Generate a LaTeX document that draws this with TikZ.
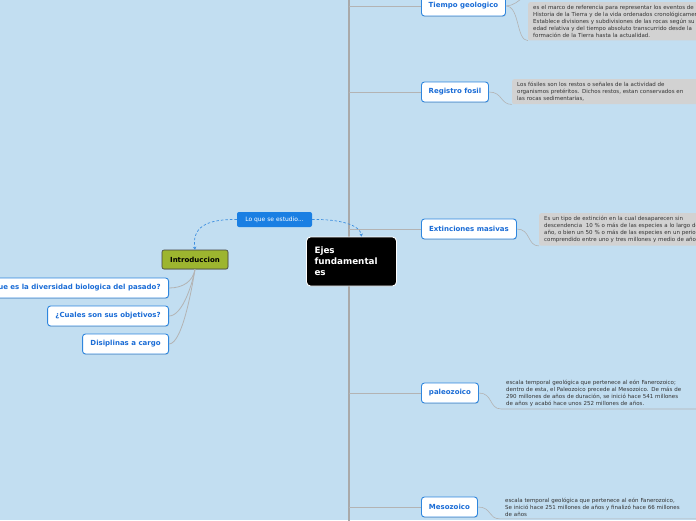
\documentclass[tikz,border=0pt]{standalone}
\usepackage{fontspec}
\setmainfont{DejaVu Sans}
\usetikzlibrary{shadows,arrows.meta}
\definecolor{bg}{HTML}{C2DEF1}
\definecolor{topicblue}{HTML}{2E86DE}
\definecolor{topictext}{HTML}{1A6CD6}
\definecolor{lofill}{HTML}{1A7FE3}
\definecolor{introfill}{HTML}{9DB52F}
\definecolor{descgray}{HTML}{D2D2D2}
\definecolor{desctext}{HTML}{333333}
\definecolor{trunkgray}{HTML}{A9A9A9}
\definecolor{linegray}{HTML}{B3B3B3}
\definecolor{dashblue}{HTML}{3D8FE0}
\tikzset{
  topic/.style={draw=topicblue, line width=0.9pt, fill=white, rounded corners=3pt,
    text=topictext, font=\fontsize{7}{8.4}\selectfont\bfseries,
    minimum height=20pt, inner xsep=3pt,
    drop shadow={shadow xshift=0.4pt, shadow yshift=-0.8pt, opacity=0.25}},
  desc/.style={fill=descgray, rounded corners=2pt, text=desctext,
    font=\fontsize{5.5}{7}\selectfont, align=left, anchor=north west,
    inner xsep=5pt, inner ysep=3pt, text width=200pt},
  plaindesc/.style={text=desctext, font=\fontsize{5.5}{7}\selectfont, align=left,
    anchor=north west, inner xsep=5pt, inner ysep=2.5pt, text width=200pt},
  conn/.style={draw=linegray, line width=0.6pt},
  branch/.style={draw=linegray, line width=0.8pt},
  dlink/.style={draw=dashblue, line width=0.7pt, dash pattern=on 2.5pt off 2pt,
    -{Stealth[length=3pt,width=3.5pt]}}
}
\begin{document}
\begin{tikzpicture}[x=1pt,y=-1pt]
\useasboundingbox (0,0) rectangle (696,520);
\fill[bg] (0,0) rectangle (696,520);
\clip (0,0) rectangle (696,520);

% trunk
\coordinate (ttop) at (349,-5);
\coordinate (tmid) at (349,393);
\coordinate (tbot) at (349,525);
\draw[draw=trunkgray, line width=1.7pt] (ttop) -- (tmid);
\draw[draw=trunkgray, line width=1.2pt] (tmid) -- (tbot);

% right topics
\node[topic, minimum width=84pt, anchor=west] (tg) at (421,6) {Tiempo geologico};
\node[topic, minimum width=67pt, anchor=west] (rf) at (421,92) {Registro fosil};
\node[topic, minimum width=95pt, anchor=west] (em) at (421,229) {Extinciones masivas};
\node[topic, minimum width=57pt, anchor=west] (pz) at (421,393) {paleozoico};
\node[topic, minimum width=56pt, anchor=west] (mz) at (421,507) {Mesozoico};

% trunk branches
\foreach \n in {tg,rf,em,pz,mz}{
  \draw[branch] (ttop |- \n.west) -- (\n.west);
}

% descriptions
\node[desc] (tgd) at (528,2) {es el marco de referencia para representar los eventos de la\\
Historia de la Tierra y de la vida ordenados cronológicamente.\\
Establece divisiones y subdivisiones de las rocas según su\\
edad relativa y del tiempo absoluto transcurrido desde la\\
formación de la Tierra hasta la actualidad.};
\node[desc] (rfd) at (512,79) {Los fósiles son los restos o señales de la actividad de\\
organismos pretéritos. Dichos restos, estan conservados en\\
las rocas sedimentarias,};
\node[desc] (emd) at (539,213) {Es un tipo de extinción en la cual desaparecen sin\\
descendencia\ \ 10 \% o más de las especies a lo largo de un\\
año, o bien un 50 \% o más de las especies en un periodo\\
comprendido entre uno y tres millones y medio de años.};
\node[plaindesc] (pzd) at (501,377) {escala temporal geológica que pertenece al eón Fanerozoico;\\
dentro de esta, el Paleozoico precede al Mesozoico. De más de\\
290 millones de años de duración, se inició hace 541 millones\\
de años y acabó hace unos 252 millones de años.};
\node[plaindesc] (mzd) at (500,495) {escala temporal geológica que pertenece al eón Fanerozoico,\\
Se inició hace 251 millones de años y finalizó hace 66 millones\\
de años};

\coordinate (tgup) at (540,-14);
\draw[conn] (tg.east) .. controls +(14,0) and +(-10,0) .. (tgup);
\draw[conn] (tg.east) .. controls +(14,0) and +(-12,0) .. (tgd.south west);
\draw[conn] (rf.east) .. controls +(14,0) and +(-12,0) .. (rfd.south west);
\draw[conn] (em.east) .. controls +(14,0) and +(-12,0) .. (emd.south west);
\draw[conn] (pz.east) .. controls +(14,0) and +(-12,0) .. (pzd.south west) -- (pzd.south east);
\draw[conn] (mz.east) .. controls +(14,0) and +(-12,0) .. (mzd.south west) -- (mzd.south east);

% central
\node[fill=black, draw=white, line width=0.9pt, rounded corners=4pt, text=white,
  font=\fontsize{8.8}{11}\selectfont\bfseries, align=left, text width=74pt,
  minimum width=90pt, minimum height=49pt, inner xsep=8pt, xshift=1.5pt] (ejes) at (350,261.5)
  {Ejes\\fundamental\\es};

% lo que se estudio
\node[fill=lofill, rounded corners=2pt, text=white, font=\fontsize{6}{7}\selectfont,
  minimum width=75pt, minimum height=15pt, inner sep=2pt] (lo) at (274.5,219.5)
  {Lo que se estudio...};

% introduccion
\node[fill=introfill, draw=black!75, line width=0.6pt, rounded corners=2pt,
  font=\fontsize{7}{8}\selectfont\bfseries, minimum width=66pt, minimum height=19pt,
  inner sep=2pt, drop shadow={shadow xshift=0.4pt, shadow yshift=-0.8pt, opacity=0.25}]
  (intro) at (195,259.5) {Introduccion};

% left topics
\node[topic, anchor=east, inner xsep=8pt] (q1) at (169,288) {¿Que es la diversidad biologica del pasado?};
\node[topic, anchor=east, minimum width=121pt] (q2) at (169,316) {¿Cuales son sus objetivos?};
\node[topic, anchor=east, minimum width=86pt] (q3) at (169,344) {Disiplinas a cargo};

\foreach \n in {q1,q2,q3}{
  \draw[branch] (intro.south) .. controls +(-2,12) and +(14,0) .. (\n.east);
}

% dashed links
\draw[dlink] (lo.west) .. controls (205,219) and (192,228) .. (intro.north);
\draw[dlink] (lo.east) .. controls (340,219) and (360,225) .. ([xshift=10pt]ejes.north);
\end{tikzpicture}
\end{document}
